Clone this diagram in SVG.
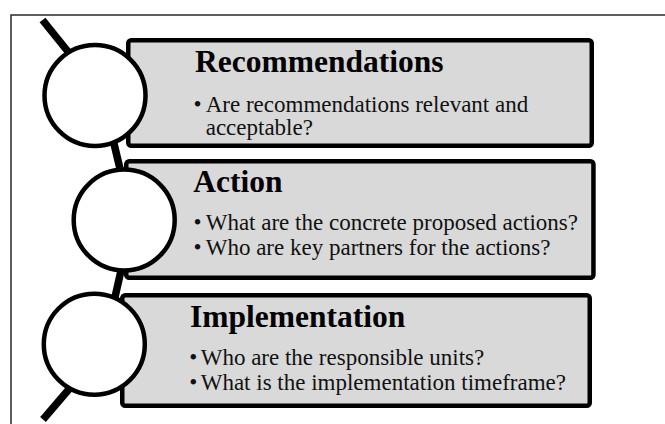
<svg xmlns="http://www.w3.org/2000/svg" width="665" height="424" viewBox="0 0 665 424">
<style>
.frame{fill:none;stroke:#2a2a2a;stroke-width:1.5}
.spine{fill:none;stroke:#000;stroke-width:7.5;stroke-linecap:butt}
.box{fill:#d9d9d9;stroke:#000;stroke-width:4.5}
.ring{fill:#fff;stroke:#000;stroke-width:4.5}
.title{font-family:"Liberation Serif","Times New Roman",serif;font-weight:bold;font-size:31.5px;fill:#000}
.body{font-family:"Liberation Serif","Times New Roman",serif;font-size:23px;fill:#111}
</style>
<rect class="frame" x="11" y="15" width="700" height="430"/>
<g id="connectors">
<line class="spine" x1="42.5" y1="20" x2="82" y2="69"/>
<line class="spine" x1="108.3" y1="120" x2="127.5" y2="200"/>
<line class="spine" x1="125.7" y1="250" x2="109.8" y2="320"/>
<line class="spine" x1="82" y1="374" x2="43" y2="419.5"/>
</g>
<g id="recommendations">
<rect class="box" x="128.25" y="40.25" width="463.5" height="105.5" rx="3"/>
<circle class="ring" cx="95" cy="95.5" r="50.5"/>
<text class="title" x="195" y="71.5">Recommendations</text>
<text class="body" y="112"><tspan x="193.5">•</tspan><tspan x="205.7">Are recommendations relevant and</tspan></text>
<text class="body" x="205.7" y="134.5">acceptable?</text>
</g>
<g id="action">
<rect class="box" x="126.25" y="161.25" width="467.2" height="116.5" rx="3"/>
<circle class="ring" cx="124.2" cy="220" r="50.5"/>
<text class="title" x="193.3" y="192.3">Action</text>
<text class="body" y="230"><tspan x="193.5">•</tspan><tspan x="205.7">What are the concrete proposed actions?</tspan></text>
<text class="body" y="255"><tspan x="193.5">•</tspan><tspan x="205.7">Who are key partners for the actions?</tspan></text>
</g>
<g id="implementation">
<rect class="box" x="122.25" y="295.25" width="467.5" height="110.5" rx="3"/>
<circle class="ring" cx="94.3" cy="344.2" r="50.5"/>
<text class="title" x="190" y="326.7">Implementation</text>
<text class="body" y="365"><tspan x="189.3">•</tspan><tspan x="200.7">Who are the responsible units?</tspan></text>
<text class="body" y="390"><tspan x="189.3">•</tspan><tspan x="200.7">What is the implementation timeframe?</tspan></text>
</g>
</svg>
